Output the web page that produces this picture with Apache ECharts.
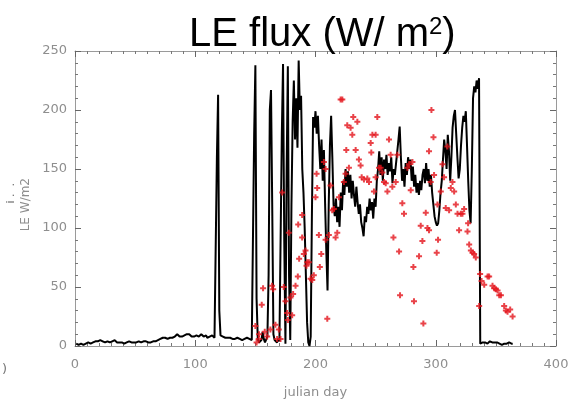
<!DOCTYPE html>
<html>
<head>
<meta charset="utf-8">
<script src="https://cdn.jsdelivr.net/npm/echarts@6/dist/echarts.min.js"></script>
<style>
html,body{margin:0;padding:0;background:#fff;}
#c{width:578px;height:404px;}
</style>
</head>
<body>
<div id="c"></div>
<script>
// Daily LE flux (black line); first value is julian day 1
var firstDay = 1;
var leFlux = [
2,2,1,1,2,2,1,1,2,3,
3,2,2,3,3,4,4,3,4,4,
5,4,4,3,3,4,4,3,3,4,
4,5,5,4,3,3,3,4,3,3,
2,2,3,4,4,3,3,2,3,3,
3,4,4,3,3,3,4,4,4,3,
3,4,3,4,4,3,4,4,5,5,
6,7,7,7,7,7,6,7,7,8,
7,8,8,9,10,9,8,7,8,8,
9,9,10,11,10,9,8,7,8,8,
9,8,8,9,10,9,8,8,9,7,
7,8,8,9,8,7,6,160,213,30,
9,8,8,7,7,6,7,8,7,6,
6,7,6,6,7,7,6,6,5,6,
6,6,7,6,6,5,5,6,180,238,
40,6,3,2,5,12,6,3,4,8,
60,200,217,120,10,5,4,3,6,4,
3,180,239,90,2,150,237,60,5,120,
190,225,175,210,168,242,200,212,150,130,
100,60,20,3,0,8,110,194,185,199,
180,195,170,150,175,140,166,120,80,47,
120,170,195,160,120,110,125,105,118,101,
130,115,140,128,150,135,148,130,145,125,
140,128,118,135,122,112,120,105,100,93,
110,105,118,112,125,115,122,108,125,118,
140,150,165,145,160,140,158,150,162,145,
155,148,160,138,150,145,155,165,175,186,
160,140,150,135,155,145,160,150,158,140,
152,135,145,130,138,128,140,132,145,150,
138,155,140,150,135,145,130,120,110,105,
102,104,115,130,140,158,175,165,150,179,
165,140,160,185,195,200,180,160,142,150,
170,185,195,190,199,170,140,115,104,150,
210,220,215,225,218,227,2,2,3,2,
3,3,2,3,4,3,3,4,3,2,
3,3,2,2,1,1,2,2,2,3,
3,2,2,2
];

// Red "+" points
var redDays = [
150.0,151.0,153.0,152.8,155.3,156.4,157.8,159.8,162.5,163.9,164.8,166.7,168.1,169.5,170.9,172.3,173.6,175.0,176.4,177.0,
177.8,179.2,180.6,181.4,183.4,185.3,185.6,186.4,188.9,188.9,190.3,191.7,192.5,193.1,194.5,195.9,197.3,198.6,200.0,200.9,
201.4,202.8,203.6,204.8,207.0,208.4,208.4,209.8,211.1,212.5,213.9,215.3,216.7,218.1,219.5,220.9,222.3,223.6,225.0,225.6,
226.4,227.8,229.2,230.6,231.4,233.4,234.8,236.1,237.5,238.4,240.3,243.1,244.5,245.9,246.4,247.3,248.6,250.0,250.0,251.4,
252.8,254.2,255.6,257.0,258.4,259.8,261.1,262.5,263.9,264.8,266.7,268.1,269.5,270.3,272.2,273.6,276.4,277.8,279.2,280.6,
281.4,281.9,286.1,287.5,288.9,289.7,291.7,293.1,294.4,294.4,295.8,296.4,298.1,298.6,300.8,301.4,301.9,304.2,305.6,306.9,
308.3,309.7,311.1,312.5,313.9,315.3,316.7,318.1,319.4,320.8,322.2,323.6,326.4,326.9,327.8,329.2,330.6,331.9,333.3,336.1,
336.9,338.1,340.3,343.1,344.4,347.2,348.6,350.0,351.4,352.8,354.2,356.9,358.3,359.7,361.9,363.9
];
var redVals = [
17,3,10,6,35,49,12,8,14,51,48,18,6,14,6,130,50,38,28,22,
96,41,26,44,51,59,103,74,111,92,78,81,68,71,71,57,56,60,126,146,
134,94,67,78,156,150,90,23,94,136,115,116,92,96,126,209,209,139,146,166,
187,151,185,179,194,166,190,158,153,143,141,142,139,172,164,179,131,179,143,194,
151,151,147,139,138,131,175,162,135,92,139,162,80,43,121,112,151,154,132,156,
67,38,76,102,89,19,113,100,165,98,139,200,177,145,79,120,90,131,154,143,
117,169,115,134,139,131,120,112,98,112,112,116,97,104,86,81,79,78,75,34,
61,55,52,59,59,51,49,48,47,43,43,34,30,29,31,25
];

// Axis ticks
var xMin = 0, xMax = 400, xStep = 100;
var yMin = 0, yMax = 250, yStep = 50;
var titleMain = 'LE flux (W/ m', titleSup = '2', titleEnd = ')';
var xName = 'julian day', yName = 'LE W/m2';

var lineData = leFlux.map(function(v, i){ return [firstDay + i, v]; });
var redData = redDays.map(function(d, i){ return [d, redVals[i]]; });

var axisGray = '#9a9a9a';
var labelGray = '#8e8e8e';
var labelFont = 'DejaVu Sans';

function xAx(pos, showLabel){
  return {
    type:'value', min:xMin, max:xMax, interval:xStep, position:pos,
    axisLine:{show:true, onZero:false, lineStyle:{color:axisGray, width:1}},
    axisTick:{show:true, inside:true, length:6, lineStyle:{color:'#666'}},
    minorTick:{show:true, splitNumber:10, length:3, lineStyle:{color:'#777'}},
    axisLabel:{show:showLabel, color:labelGray, fontSize:13, fontFamily:labelFont, margin:12},
    splitLine:{show:false}, minorSplitLine:{show:false},
    name: showLabel ? xName : '', nameLocation:'middle', nameGap:40,
    nameTextStyle:{color:labelGray, fontSize:13, fontFamily:labelFont}
  };
}
function yAx(pos, showLabel){
  return {
    type:'value', min:yMin, max:yMax, interval:yStep, position:pos,
    axisLine:{show:true, onZero:false, lineStyle:{color:axisGray, width:1}},
    axisTick:{show:true, inside:true, length:6, lineStyle:{color:'#666'}},
    minorTick:{show:true, splitNumber:5, length:3, lineStyle:{color:'#777'}},
    axisLabel:{show:showLabel, color:labelGray, fontSize:13, fontFamily:labelFont, margin:8},
    splitLine:{show:false}, minorSplitLine:{show:false}
  };
}

var chart = echarts.init(document.getElementById('c'), null, {renderer:'canvas'});
chart.setOption({
  animation:false,
  backgroundColor:'#ffffff',
  grid:{left:75, right:22, top:51, bottom:47, containLabel:false},
  title:{
    text:'{a|' + titleMain + '}{s|' + titleSup + '}{a|' + titleEnd + '}',
    left:184, top:4,
    textStyle:{
      fontWeight:'normal',
      rich:{
        a:{fontSize:40, fontFamily:'Liberation Sans', fontWeight:'normal', color:'#000', lineHeight:46, verticalAlign:'bottom'},
        s:{fontSize:24, fontFamily:'Liberation Sans', fontWeight:'normal', color:'#000', lineHeight:46, verticalAlign:'top', padding:[6,0,0,0]}
      }
    }
  },
  graphic:[
    {type:'text', left:20, top:178, rotation:Math.PI/2, style:{text:yName, fill:labelGray, font:'12px "DejaVu Sans"'}},
    {type:'text', left:6, top:183, rotation:Math.PI/2, style:{text:'i .  .', fill:'#555', font:'11px "DejaVu Sans"'}},
    {type:'text', left:2, top:363, style:{text:')', fill:'#777', font:'13px "DejaVu Sans"'}}
  ],
  xAxis:[xAx('bottom', true), xAx('top', false)],
  yAxis:[yAx('left', true), yAx('right', false)],
  series:[
    {type:'line', xAxisIndex:0, yAxisIndex:0, data:lineData, showSymbol:false, symbol:'none',
     lineStyle:{color:'#000', width:2}, clip:true, z:2},
    {type:'scatter', xAxisIndex:0, yAxisIndex:0, data:redData,
     symbol:'path://M2,0 L4,0 L4,2 L6,2 L6,4 L4,4 L4,6 L2,6 L2,4 L0,4 L0,2 L2,2 Z',
     symbolSize:6, itemStyle:{color:'#e3141c'}, z:3}
  ]
});
</script>
</body>
</html>
